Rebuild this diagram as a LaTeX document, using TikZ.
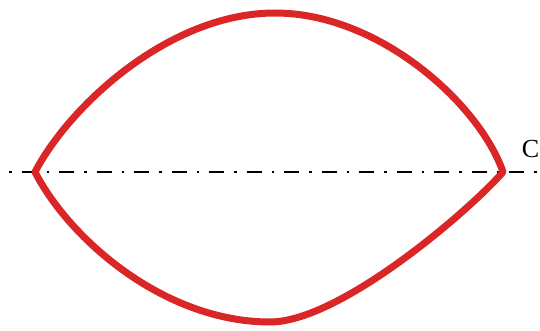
\documentclass[tikz,border=0pt]{standalone}
\usepackage{fontspec}
\setmainfont{Liberation Serif}
\usetikzlibrary{positioning}
\definecolor{LensRed}{RGB}{218,38,38}

\begin{document}
\begin{tikzpicture}[x=1pt,y=1pt,
  outline/.style={draw=LensRed,line width=7pt,line join=round,line cap=round},
  axisline/.style={draw=black,line width=2.5pt,dash pattern=on 2.5pt off 10pt on 15pt off 10pt},
  axislabel/.style={anchor=base east,inner sep=0pt,font=\fontsize{26}{26}\selectfont}]
\useasboundingbox (0,0) rectangle (540,330);
\coordinate (left) at (35,158);
\coordinate (right) at (503,158);
\coordinate (top) at (275,317);
\coordinate (bottom) at (270,8);
\coordinate (axisstart) at (9,158);
\coordinate (axisend) at (545,158);
\draw[axisline] (axisstart) -- (axisend);
\node[axislabel] (clabel) at (539.5,173) {C};
\draw[outline] (left) .. controls (70,225) and (170,317) .. (top)
  .. controls (380,317) and (480,225) .. (right)
  .. controls (470,120) and (340,8) .. (bottom)
  .. controls (165,8) and (70,90) .. cycle;
\end{tikzpicture}
\end{document}
